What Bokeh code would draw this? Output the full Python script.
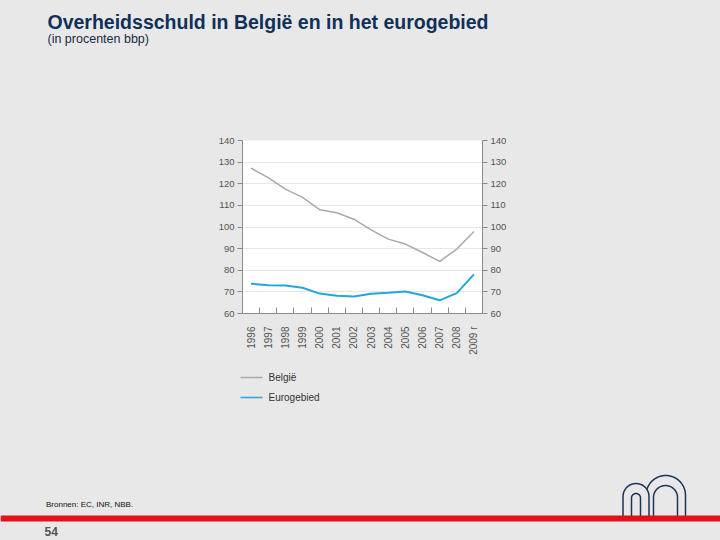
import numpy as np
from bokeh.plotting import figure
from bokeh.layouts import column
from bokeh.models import Range1d, LinearAxis, FixedTicker, Label
from bokeh.embed import file_html
from bokeh.resources import INLINE

# ---- data ----
years = ["1996", "1997", "1998", "1999", "2000", "2001", "2002", "2003", "2004",
         "2005", "2006", "2007", "2008", "2009 r"]
belgie = [127.2, 122.8, 117.5, 113.7, 108.0, 106.6, 103.6, 98.7, 94.4, 92.1, 88.2, 84.1, 89.8, 97.9]
eurogebied = [73.8, 73.1, 72.9, 71.9, 69.2, 68.2, 67.9, 69.1, 69.6, 70.2, 68.4, 66.1, 69.4, 78.1]
y_ticks = [60, 70, 80, 90, 100, 110, 120, 130, 140]
series_names = ["België", "Eurogebied"]

BG = "#e8e8e8"
NAVY = "#10305a"
FONT = "Liberation Sans"
GREY_LINE = "#a9a9a9"
BLUE_LINE = "#22a6dc"
W = 720


def canvas(h, y0, y1):
    f = figure(width=W, height=h, output_backend="svg", toolbar_location=None,
               x_range=Range1d(0, W), y_range=Range1d(y1, y0),
               x_axis_type=None, y_axis_type=None, min_border=0,
               background_fill_color=BG, border_fill_color=BG, outline_line_color=None)
    f.xgrid.visible = False
    f.ygrid.visible = False
    return f


# ---- top: titles ----
top = canvas(132, 0, 132)
top.add_layout(Label(x=47, y=21.4, text="Overheidsschuld in België en in het eurogebied",
                     text_font=FONT, text_font_style="bold", text_font_size="19.5px",
                     text_color=NAVY, text_baseline="middle"))
top.add_layout(Label(x=47, y=38, text="(in procenten bbp)", text_font=FONT,
                     text_font_size="12.5px", text_color="#1a2a40", text_baseline="middle"))

# ---- chart ----
xs = list(range(len(years)))
p = figure(width=W, height=233, output_backend="svg", toolbar_location=None,
           x_range=Range1d(-0.5, len(years) - 0.5), y_range=Range1d(60, 140),
           min_border_left=242, min_border_right=238, min_border_top=8, min_border_bottom=52,
           background_fill_color="white", border_fill_color=BG, outline_line_color=None)

p.xaxis.ticker = FixedTicker(ticks=xs, minor_ticks=[i + 0.5 for i in xs[:-1]])
p.xaxis.major_label_overrides = {i: lab for i, lab in zip(xs, years)}
p.xaxis.major_label_orientation = np.pi / 2
p.xaxis.major_tick_in = 0
p.xaxis.major_tick_out = 0
p.xaxis.minor_tick_in = 6
p.xaxis.minor_tick_out = 0
p.xaxis.minor_tick_line_color = "#8a8a8a"
p.xaxis.axis_line_color = "#8a8a8a"
p.xaxis.major_label_standoff = 13
p.xaxis.major_label_text_font = FONT
p.xaxis.major_label_text_font_size = "10px"
p.xaxis.major_label_text_color = "#555555"

p.yaxis.ticker = FixedTicker(ticks=y_ticks)
right = LinearAxis(ticker=FixedTicker(ticks=y_ticks))
p.add_layout(right, "right")
for ax in (p.yaxis[0], right):
    ax.axis_line_color = "#8a8a8a"
    ax.major_tick_line_color = "#8a8a8a"
    ax.major_tick_in = 0
    ax.major_tick_out = 5
    ax.minor_tick_line_color = None
    ax.major_label_standoff = 3
    ax.major_label_text_font = FONT
    ax.major_label_text_font_size = "9.5px"
    ax.major_label_text_color = "#555555"

p.xgrid.grid_line_color = None
p.ygrid.ticker = FixedTicker(ticks=y_ticks)
p.ygrid.grid_line_color = "#e6e6e6"

p.line(xs, belgie, line_color=GREY_LINE, line_width=1.5)
p.line(xs, eurogebied, line_color=BLUE_LINE, line_width=2)

# ---- bottom: legend, source, page number, logo ----
bot = canvas(175, 365, 540)
for name, col, yy in zip(series_names, [GREY_LINE, BLUE_LINE], [377, 397]):
    bot.line([240, 262], [yy, yy], line_color=col, line_width=1.5)
    bot.add_layout(Label(x=268, y=yy, text=name, text_font=FONT, text_font_size="10px",
                         text_color="#333333", text_baseline="middle"))

bot.add_layout(Label(x=45.5, y=504.2, text="Bronnen: EC, INR, NBB.", text_font=FONT,
                     text_font_size="8px", text_color="#111111", text_baseline="middle"))
bot.add_layout(Label(x=44, y=530.8, text="54", text_font=FONT, text_font_style="bold",
                     text_font_size="12px", text_color="#555555", text_baseline="middle"))


def arch(x0, x1, ytop, ybot=517, n=30):
    r = (x1 - x0) / 2.0
    cx = (x0 + x1) / 2.0
    cy = ytop + r
    a = np.linspace(np.pi, 0, n)
    px = [x0] + list(cx + r * np.cos(a)) + [x1]
    py = [ybot] + list(cy - r * np.sin(a)) + [ybot]
    return px, py


for (x0, x1, yt) in [(645.5, 685, 475), (653, 677, 485), (622.5, 648.5, 483), (631, 640, 493)]:
    ax_, ay_ = arch(x0, x1, yt)
    bot.patch(ax_, ay_, fill_color=BG, line_color="#1c3555", line_width=1.5)

bot.quad(left=0, right=W, top=515, bottom=521, fill_color="#e3101b", line_color=None)

layout = column(column(top), column(p), column(bot), spacing=0, styles={"background-color": BG})
open("out.html", "w").write(file_html(layout, INLINE))
